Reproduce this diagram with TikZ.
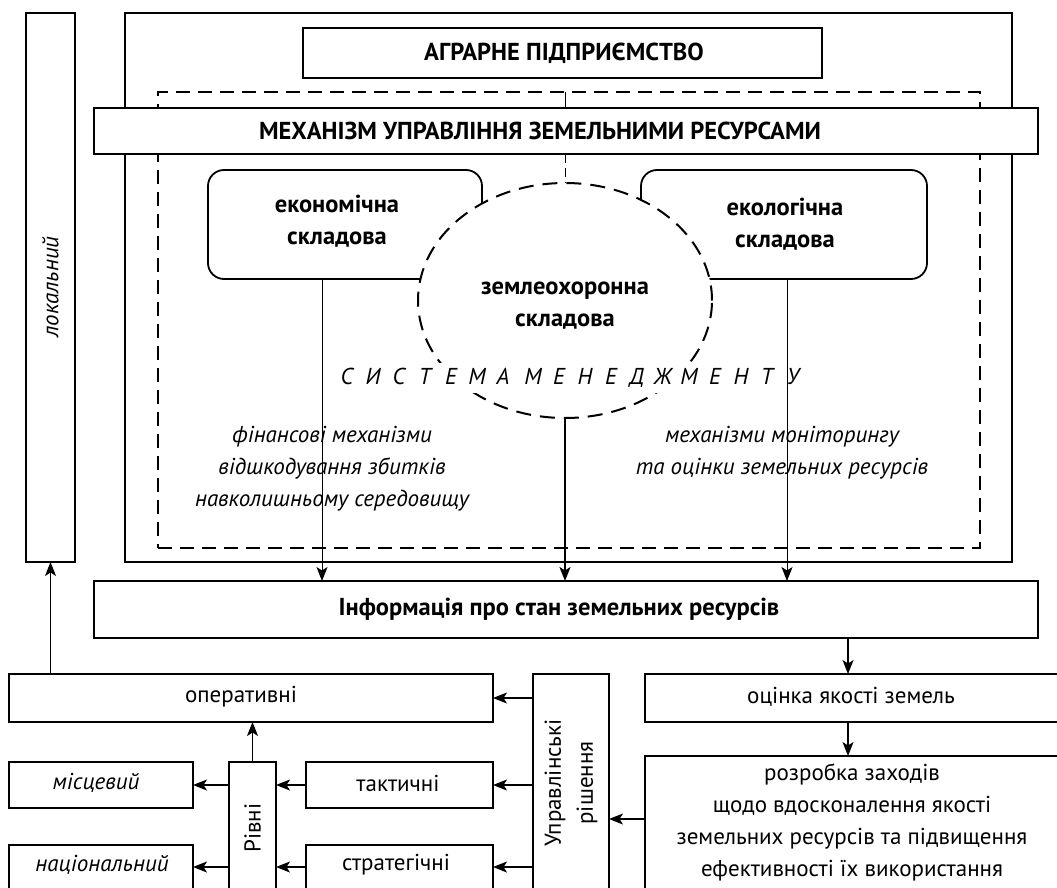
\documentclass[tikz,border=0pt]{standalone}
\usepackage{fontspec}
\setmainfont{PT Sans}
\usetikzlibrary{shapes.geometric,arrows.meta}
\newcommand\ssp[1]{\makebox[26pt]{#1}}
\begin{document}
\begin{tikzpicture}[x=1pt,y=-1pt,
  box/.style={draw, line width=1.8pt, fill=white, inner sep=0pt, outer sep=0pt, anchor=north west},
  rbox/.style={box, rounded corners=16pt},
  txt/.style={font=\fontsize{23}{32}\selectfont, align=center, inner sep=0pt},
  btxt/.style={font=\bfseries\fontsize{24.5}{32}\selectfont, align=center, inner sep=0pt},
  itxt/.style={font=\itshape\fontsize{23}{32}\selectfont, align=center, inner sep=0pt},
  thin/.style={line width=1pt},
  arr/.style={line width=1.3pt, -{Stealth[length=14pt,width=11pt,inset=3.5pt]}},
  tarr/.style={line width=1pt, -{Stealth[length=14pt,width=11pt,inset=3.5pt]}},
  dsh/.style={line width=1.5pt, dash pattern=on 14pt off 8pt}
]
\useasboundingbox (0,0) rectangle (1057,888);
\clip (0,0) rectangle (1057,888);
% top area
\node[box, minimum width=49, minimum height=549] (loc) at (26,13) {};
\node[itxt, rotate=90] (loct) at (50.5,287) {локальний};
\node[box, minimum width=887, minimum height=549] (outer) at (125,13) {};
\node[box, minimum width=519, minimum height=50] (agr) at (303,28) {};
\node[btxt] (agrt) at (564,53) {АГРАРНЕ ПІДПРИЄМСТВО};
\node[draw, dsh, inner sep=0pt, outer sep=0pt, anchor=north west, minimum width=822, minimum height=456] (dash) at (158,92) {};
\node[box, minimum width=944, minimum height=46] (mech) at (94,108) {};
\node[btxt] (mecht) at (540,131) {МЕХАНІЗМ УПРАВЛІННЯ ЗЕМЕЛЬНИМИ РЕСУРСАМИ};
\node[rbox, minimum width=274, minimum height=109] (econ) at (208,170) {};
\node[rbox, minimum width=286, minimum height=109] (eco) at (641,170) {};
\node[btxt] (econt) at (337,221) {економічна\\складова};
\node[btxt] (ecot) at (785,224) {екологічна\\складова};
\node[ellipse, draw, fill=white, line width=2pt, dash pattern=on 15pt off 9pt, inner sep=0pt, outer sep=0pt, minimum width=294, minimum height=235] (zem) at (565,300.5) {};
\node[btxt] (zemt) at (565,306) {землеохоронна\\складова};
\node[itxt, fill=white, inner ysep=5pt] (sys) at (570,378)
  {\ssp{С}\ssp{И}\ssp{С}\ssp{Т}\ssp{Е}\ssp{М}\ssp{А}\hspace{4pt}\ssp{М}\ssp{Е}\ssp{Н}\ssp{Е}\ssp{Д}\ssp{Ж}\ssp{М}\ssp{Е}\ssp{Н}\ssp{Т}\ssp{У}};
\node[itxt] (fin) at (332,469) {фінансові механізми\\відшкодування збитків\\навколишньому середовищу};
\node[itxt] (mon) at (782,453) {механізми моніторингу\\та оцінки земельних ресурсів};
% connectors top
\coordinate (cx) at (565,0);
\coordinate (ex) at (322,0);
\coordinate (ox) at (787,0);
\draw[thin] (dash.north -| cx) -- (mech.north -| cx);
\draw[thin, dash pattern=on 9pt off 5pt] (mech.south -| cx) -- (zem.north);
% bottom boxes
\node[box, minimum width=944, minimum height=57] (info) at (94,581) {};
\node[btxt] (infot) at (559,609) {Інформація про стан земельних ресурсів};
\draw[tarr] (econ.south -| ex) -- (info.north -| ex);
\draw[tarr] (eco.south -| ox) -- (info.north -| ox);
\draw[arr, line width=1.8pt] (zem.south) -- (info.north -| zem.south);
\node[box, minimum width=450, minimum height=48] (ocin) at (645,674) {};
\node[txt] (ocint) at (851,697) {оцінка якості земель};
\node[box, minimum width=450, minimum height=200] (rozr) at (645,756) {};
\node[txt] (rozrt) at (852,822) {розробка заходів\\щодо вдосконалення якості\\земельних ресурсів та підвищення\\ефективності їх використання};
\node[box, minimum width=76, minimum height=250] (upr) at (533,674) {};
\node[txt, rotate=90] (uprt) at (571,783) {Управлінські\\рішення};
\node[box, minimum width=484, minimum height=48] (oper) at (9,674) {};
\node[txt] (opert) at (241,697) {оперативні};
\node[box, minimum width=187, minimum height=46] (takt) at (306,762) {};
\node[txt] (taktt) at (398,783) {тактичні};
\node[box, minimum width=187, minimum height=80] (strat) at (306,845) {};
\node[txt] (stratt) at (396,865) {стратегічні};
\node[box, minimum width=47, minimum height=160] (rivni) at (229,762) {};
\node[txt, rotate=90] (rivnit) at (252.5,828) {Рівні};
\node[box, minimum width=184, minimum height=46] (misc) at (9,762) {};
\node[itxt] (misct) at (96,783) {місцевий};
\node[box, minimum width=184, minimum height=80] (nats) at (9,845) {};
\node[itxt] (natst) at (102,865) {національний};
% bottom arrows
\coordinate (ax) at (848,0);
\coordinate (ya) at (0,819);
\coordinate (yb) at (0,867);
\draw[arr] (loc.south |- oper.north) -- (loc.south);
\draw[arr] (info.south -| ax) -- (ocin.north -| ax);
\draw[arr] (ocin.south -| ax) -- (rozr.north -| ax);
\draw[arr] (rozr.west |- ya) -- (upr.east |- ya);
\draw[arr] (upr.west |- oper.east) -- (oper.east);
\draw[arr] (upr.west |- takt.east) -- (takt.east);
\draw[arr] (upr.west |- yb) -- (strat.east |- yb);
\draw[arr] (rivni.north) -- (rivni.north |- oper.south);
\draw[arr] (takt.west) -- (rivni.east |- takt.west);
\draw[arr] (strat.west |- yb) -- (rivni.east |- yb);
\draw[arr] (rivni.west |- takt.west) -- (misc.east |- takt.west);
\draw[arr] (rivni.west |- yb) -- (nats.east |- yb);
\end{tikzpicture}
\end{document}
